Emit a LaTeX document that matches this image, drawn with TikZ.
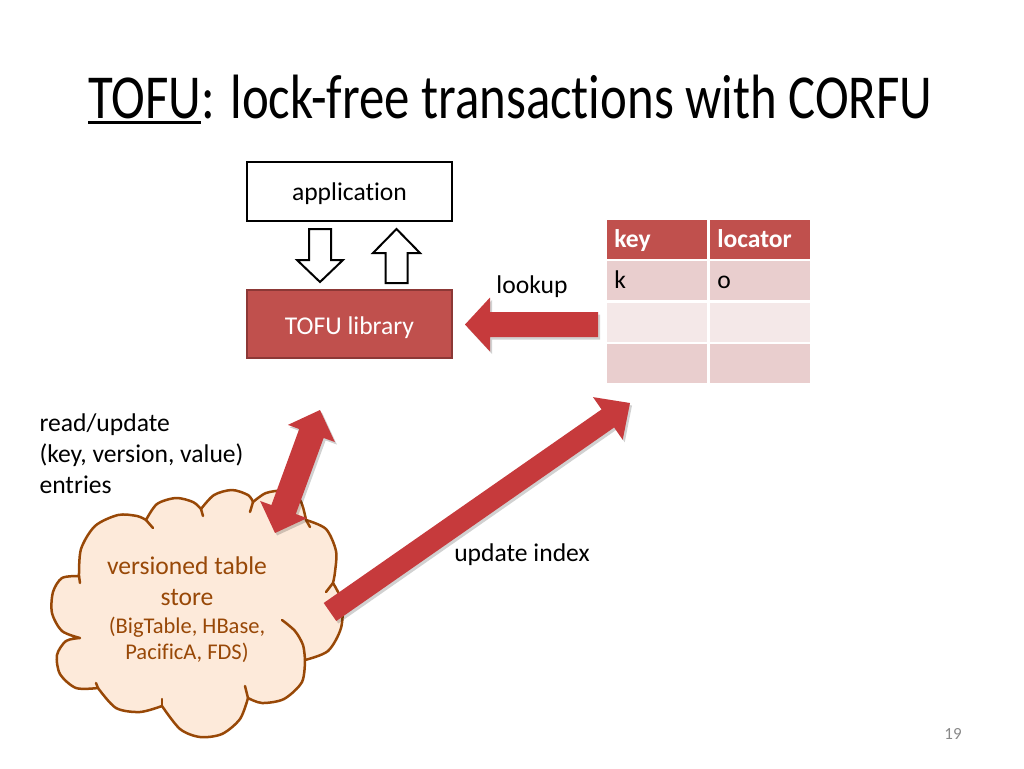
\documentclass[tikz,border=0pt]{standalone}
\usepackage{fontspec}
\usepackage{graphicx}
\setmainfont{Carlito}[Ligatures=NoCommon]
\usetikzlibrary{calc}
\definecolor{arrowred}{RGB}{198,58,60}
\definecolor{tofured}{RGB}{192,80,77}
\definecolor{tofuborder}{RGB}{140,56,54}
\definecolor{rowA}{RGB}{233,206,206}
\definecolor{rowB}{RGB}{244,232,232}
\definecolor{cloudfill}{RGB}{253,234,218}
\definecolor{cloudline}{RGB}{152,72,7}
\definecolor{pagegray}{RGB}{137,137,137}
% block arrow: [style]{tail}{tip}{half shaft}{half head}{head length}
\newcommand\blkarrow[6][]{%
  \coordinate (ba-h) at ($(#3)!#6!(#2)$);
  \path[#1] ($(#2)!#4!90:(#3)$) -- ($(ba-h)!#4!90:(#3)$) -- ($(ba-h)!#5!90:(#3)$) -- (#3)
    -- ($(ba-h)!#5!-90:(#3)$) -- ($(ba-h)!#4!-90:(#3)$) -- ($(#2)!#4!-90:(#3)$) -- cycle;}
% double block arrow: [style]{tip1}{tip2}{half shaft}{half head}{head length}
\newcommand\dblarrow[6][]{%
  \coordinate (da-a) at ($(#2)!#6!(#3)$);
  \coordinate (da-b) at ($(#3)!#6!(#2)$);
  \path[#1] (#2) -- ($(da-a)!#5!90:(#3)$) -- ($(da-a)!#4!90:(#3)$) -- ($(da-b)!#4!-90:(#2)$)
    -- ($(da-b)!#5!-90:(#2)$) -- (#3) -- ($(da-b)!#5!90:(#2)$) -- ($(da-b)!#4!90:(#2)$)
    -- ($(da-a)!#4!-90:(#3)$) -- ($(da-a)!#5!-90:(#3)$) -- cycle;}
\begin{document}
\begin{tikzpicture}[x=1pt,y=-1pt,
  body/.style={font=\fontsize{25.6}{31}\selectfont},
  box/.style={body, minimum width=205, minimum height=59, line width=2pt, inner sep=0},
  cell/.style={body, anchor=north west, draw=white, line width=2.5pt, minimum height=41.5,
    text width=85, text height=19, text depth=3, inner xsep=9, inner ysep=0, align=left},
  hdr/.style={cell, fill=tofured, text=white, font=\fontsize{25.6}{31}\selectfont\bfseries},
  redarrow/.style={fill=arrowred},
  arrowshadow/.style={fill=black, opacity=.18},
  hollow/.style={draw=black, fill=white, line width=2pt, line join=miter},
  cloudst/.style={fill=cloudfill, draw=cloudline, line width=2.5pt, line join=round},
  cloudarc/.style={draw=cloudline, line width=2.5pt, line cap=round}]
\useasboundingbox (0,0) rectangle (1024,768);

% title
\node[anchor=base west, inner sep=0, font=\fontsize{62.6}{70}\selectfont] (tofu) at (88,118) {\scalebox{0.812}[1]{TOFU}};
\node[anchor=base west, inner sep=0, font=\fontsize{62.6}{70}\selectfont] (titlerest) at (tofu.base east) {\scalebox{0.812}[1]{: lock-free transactions with CORFU}};
\draw[line width=3pt] ([yshift=-4pt]tofu.base west) -- ([yshift=-4pt]tofu.base east);

% application and library
\node[box, draw=black, fill=white, text height=20, text depth=3] (app) at (349.5,191.5) {application};
\node[box, draw=tofuborder, fill=tofured, text=white, minimum height=68, text height=21, text depth=1] (lib) at (349.5,324) {TOFU library};

\coordinate (downTail) at (320,229);
\coordinate (downTip) at (320,282);
\coordinate (upTail) at (396.5,283);
\coordinate (upTip) at (396.5,229);
\blkarrow[hollow]{downTail}{downTip}{11pt}{23pt}{22pt}
\blkarrow[hollow]{upTail}{upTip}{11pt}{23.5pt}{24pt}

% table
\node[hdr] (h1) at (604,217) {key};
\node[hdr] (h2) at (707,217) {locator};
\node[cell, fill=rowA] (r11) at (604,258.5) {k};
\node[cell, fill=rowA] (r12) at (707,258.5) {o};
\node[cell, fill=rowB] (r21) at (604,300) {};
\node[cell, fill=rowB] (r22) at (707,300) {};
\node[cell, fill=rowA] (r31) at (604,341.5) {};
\node[cell, fill=rowA] (r32) at (707,341.5) {};

% lookup arrow
\coordinate (luTail) at (598,324.5);
\coordinate (luTip) at (465,324.5);
\begin{scope}[transform canvas={shift={(2pt,-2.5pt)}}]
\blkarrow[arrowshadow]{luTail}{luTip}{12.5pt}{27pt}{25pt}
\end{scope}
\blkarrow[redarrow]{luTail}{luTip}{12.5pt}{27pt}{25pt}
\node[body] (lookup) at (532,287) {lookup};

% cloud
\path[cloudst]
  plot[smooth] coordinates {(80,638) (62,631) (52,613) (53,592) (62,578) (79,576)}
  -- plot[smooth] coordinates {(79,576) (81,549) (95,526) (118,515) (137,516) (146,520)}
  -- plot[smooth] coordinates {(146,520) (157,504) (176,498) (193,502) (201,509)}
  -- plot[smooth] coordinates {(201,509) (214,495) (232,490) (248,495) (253,502)}
  -- plot[smooth] coordinates {(253,502) (266,493) (284,491) (300,500) (306,520)}
  -- plot[smooth] coordinates {(306,520) (326,529) (336,551) (335,572) (333,583)}
  -- plot[smooth] coordinates {(333,583) (342,602) (341,628) (328,651) (305,660)}
  -- plot[smooth] coordinates {(305,660) (302,682) (284,699) (262,703) (248,698)}
  -- plot[smooth] coordinates {(248,698) (240,719) (222,734) (200,737) (180,729) (162,706)}
  -- plot[smooth] coordinates {(162,706) (140,712) (116,708) (98,688)}
  -- plot[smooth] coordinates {(98,688) (76,688) (60,674) (57,655) (66,641) (80,638)}
  -- cycle;
\draw[cloudarc] plot[smooth] coordinates {(79,576) (80,583)};
\draw[cloudarc] plot[smooth] coordinates {(146,520) (153,528)};
\draw[cloudarc] plot[smooth] coordinates {(201,509) (203,516)};
\draw[cloudarc] plot[smooth] coordinates {(253,502) (250,512)};
\draw[cloudarc] plot[smooth] coordinates {(306,520) (310,527)};
\draw[cloudarc] plot[smooth] coordinates {(333,583) (326,592)};
\draw[cloudarc] plot[smooth] coordinates {(305,660) (303,645) (295,631) (282,620)};
\draw[cloudarc] plot[smooth] coordinates {(248,698) (245,686)};
\draw[cloudarc] plot[smooth] coordinates {(162,706) (162,699)};
\draw[cloudarc] plot[smooth] coordinates {(98,688) (96,683)};
\node[body, text=cloudline, align=center] (store) at (187,581) {versioned table\\store};
\node[text=cloudline, align=center, font=\fontsize{22.5}{26}\selectfont] (systems) at (187,640) {(BigTable, HBase,\\PacificA, FDS)};

% read/update double arrow
\coordinate (rwLow) at (275,533);
\coordinate (rwHigh) at (320,410);
\begin{scope}[transform canvas={shift={(2pt,-2.5pt)}}]
\dblarrow[arrowshadow]{rwLow}{rwHigh}{13pt}{25pt}{25pt}
\end{scope}
\dblarrow[redarrow]{rwLow}{rwHigh}{13pt}{25pt}{25pt}
\node[body, align=left, anchor=west] (rw) at (36,454) {read/update\\(key, version, value)\\entries};

% update index arrow
\coordinate (uiTail) at (330,612);
\coordinate (uiTip) at (630,403);
\begin{scope}[transform canvas={shift={(2pt,-2.5pt)}}]
\blkarrow[arrowshadow]{uiTail}{uiTip}{11pt}{26pt}{27pt}
\end{scope}
\blkarrow[redarrow]{uiTail}{uiTip}{11pt}{26pt}{27pt}
\node[body] (ui) at (522,555) {update index};

% page number
\node[text=pagegray, font=\fontsize{17}{20}\selectfont] (page) at (953,734) {19};
\end{tikzpicture}
\end{document}
